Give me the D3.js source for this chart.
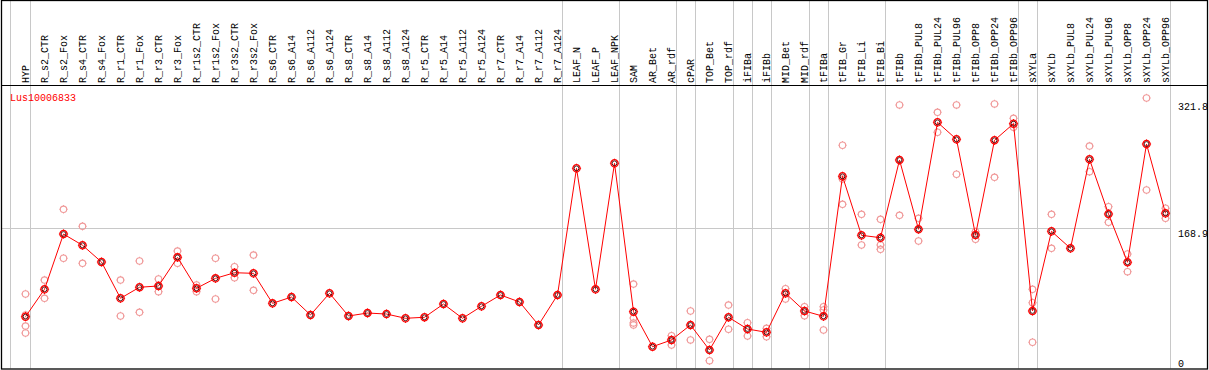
<!DOCTYPE html>
<html>
<head>
<meta charset="utf-8">
<script src="https://cdn.jsdelivr.net/npm/d3@7"></script>
<style>
  html, body { margin: 0; padding: 0; background: #fff; }
  svg { display: block; }
  text { font-family: "Liberation Mono", "DejaVu Sans Mono", monospace; font-size: 10px; }
</style>
</head>
<body>
<div id="chart"></div>
<script>
const geneId = 'Lus10006833';

const categories = [
  'HYP', 'R_s2_CTR', 'R_s2_Fox', 'R_s4_CTR', 'R_s4_Fox', 'R_r1_CTR', 'R_r1_Fox',
  'R_r3_CTR', 'R_r3_Fox', 'R_r1s2_CTR', 'R_r1s2_Fox', 'R_r3s2_CTR', 'R_r3s2_Fox',
  'R_s6_CTR', 'R_s6_A14', 'R_s6_A112', 'R_s6_A124', 'R_s8_CTR', 'R_s8_A14',
  'R_s8_A112', 'R_s8_A124', 'R_r5_CTR', 'R_r5_A14', 'R_r5_A112', 'R_r5_A124',
  'R_r7_CTR', 'R_r7_A14', 'R_r7_A112', 'R_r7_A124', 'LEAF_N', 'LEAF_P', 'LEAF_NPK',
  'SAM', 'AR_Bet', 'AR_rdf', 'cPAR', 'TOP_Bet', 'TOP_rdf', 'iFIBa', 'iFIBb',
  'MID_Bet', 'MID_rdf', 'tFIBa', 'tFIB_Gr', 'tFIB_Li', 'tFIB_Bi', 'tFIBb',
  'tFIBb_PUL8', 'tFIBb_PUL24', 'tFIBb_PUL96', 'tFIBb_OPP8', 'tFIBb_OPP24', 'tFIBb_OPP96',
  'sXYLa', 'sXYLb', 'sXYLb_PUL8', 'sXYLb_PUL24', 'sXYLb_PUL96', 'sXYLb_OPP8',
  'sXYLb_OPP24', 'sXYLb_OPP96',
];

// mean expression per sample
const meanValues = [
  64.6, 96.8, 161.8, 148.6, 128.9, 86.2, 99.2,
  100.7, 134.4, 98.0, 109.7, 116.3, 115.6,
  80.3, 87.7, 66.6, 92.1, 65.4, 68.9,
  67.7, 62.7, 63.9, 79.5, 62.7, 76.8,
  90.1, 81.9, 54.8, 90.1, 239.1, 96.8, 245.0,
  70.5, 29.3, 37.2, 54.8, 25.4, 63.9, 50.1, 46.2,
  92.1, 71.3, 65.0, 229.7, 160.3, 157.5, 248.9,
  167.4, 293.2, 273.2, 160.7, 272.1, 291.6,
  71.3, 165.0, 145.0, 249.7, 185.4, 128.6,
  267.7, 186.2,
];

// individual replicates (only the ones that show apart from the mean)
const replicateValues = [
  [91.3, 66.6, 53.6, 45.4], [107.7, 86.2], [190.9, 133.3], [170.9, 127.4], [], [107.7, 65.4], [130.1, 69.7],
  [108.9, 94.0], [141.8, 127.4], [101.9, 94.0], [133.3, 85.4], [123.4, 110.4], [137.1, 95.6],
  [], [], [], [], [], [],
  [], [], [], [], [], [],
  [], [], [], [], [], [], [],
  [103.0, 63.0, 57.2, 54.8], [], [42.2, 31.3], [71.3, 37.2], [38.0, 12.8], [78.3, 49.8], [57.5, 41.9], [50.9, 41.0],
  [97.5, 85.4], [76.3, 65.7], [76.3, 72.5, 48.9], [266.2, 226.5, 196.8], [185.0, 148.9], [179.1, 148.9, 143.8], [313.6, 183.8],
  [180.3, 153.6], [305.0, 281.5], [313.6, 232.1], [164.5, 155.6], [314.8, 228.5], [297.9, 287.3],
  [96.8, 81.0, 34.5], [185.0, 145.0], [], [265.3, 235.1], [194.0, 175.6], [138.3, 117.5],
  [321.8, 213.6], [192.1, 180.3],
];

// a separator is drawn after each of these samples
const groupEnds = ['HYP', 'R_r7_A124', 'LEAF_NPK', 'AR_rdf', 'cPAR', 'TOP_rdf', 'iFIBa', 'iFIBb',
  'MID_rdf', 'tFIBa', 'tFIB_Bi', 'tFIBb_OPP96', 'sXYLa', 'sXYLb_OPP96'];

const yMax = 321.8;
const yRef = 168.9;

const style = {
  mean: '#ff0000',
  meanInner: '#400000',
  replicate: '#f09a9a',
  grid: '#c8c8c8',
  frame: '#000',
};

const W = 1209;
const H = 370;
const headerBottom = 85;
const plotRight = 1170;
const plotBottom = 368.5;

const svg = d3.select('#chart').append('svg')
  .attr('width', W)
  .attr('height', H);

const x = d3.scalePoint()
  .domain(categories)
  .range([25, 1165]);

const y = d3.scaleLinear()
  .domain([0, yMax])
  .range([371.6, 98]);

// vertical separators
const sepX = [x(categories[0]) - 15].concat(groupEnds.map((c) => x(c) + 5));
svg.append('g')
  .selectAll('line')
  .data(sepX)
  .enter().append('line')
  .attr('x1', (d) => Math.round(d) + 0.5)
  .attr('x2', (d) => Math.round(d) + 0.5)
  .attr('y1', 0)
  .attr('y2', plotBottom)
  .attr('stroke', style.grid)
  .attr('stroke-width', 1);

// reference line
svg.append('line')
  .attr('x1', 1)
  .attr('x2', plotRight)
  .attr('y1', Math.round(y(yRef)) + 0.5)
  .attr('y2', Math.round(y(yRef)) + 0.5)
  .attr('stroke', style.grid);

// header / frame
svg.append('line')
  .attr('x1', 1).attr('x2', W - 1.5)
  .attr('y1', headerBottom + 0.5).attr('y2', headerBottom + 0.5)
  .attr('stroke', style.frame);

svg.append('rect')
  .attr('x', 1.5).attr('y', 0.5)
  .attr('width', W - 3).attr('height', plotBottom)
  .attr('fill', 'none')
  .attr('stroke', style.frame)
  .attr('stroke-width', 1.3);

// sample labels
svg.append('g')
  .selectAll('text')
  .data(categories)
  .enter().append('text')
  .attr('transform', (d) => `translate(${x(d) + 3.5},${headerBottom - 2}) rotate(-90)`)
  .attr('fill', '#000')
  .text((d) => d);

svg.append('text')
  .attr('x', 10)
  .attr('y', 101)
  .attr('fill', style.mean)
  .text(geneId);

// y labels on the right
const yLabels = [
  { v: yMax, y: y(yMax) + 12 },
  { v: yRef, y: y(yRef) + 9 },
  { v: 0, y: plotBottom - 1.5 },
];
svg.append('g')
  .selectAll('text')
  .data(yLabels)
  .enter().append('text')
  .attr('x', 1178)
  .attr('y', (d) => d.y)
  .attr('fill', '#000')
  .text((d) => d.v);

function marker(g, r, color, sw) {
  g.append('circle')
    .attr('r', r)
    .attr('fill', 'none')
    .attr('stroke', color)
    .attr('stroke-width', sw);
  g.append('path')
    .attr('d', `M0,${-r - 1}V${-r}M0,${r}V${r + 1}M${-r - 1},0H${-r}M${r},0H${r + 1}`)
    .attr('stroke', color)
    .attr('stroke-width', 1);
}

// replicates
const reps = [];
categories.forEach((c, i) => replicateValues[i].forEach((v) => reps.push({ c, v })));
svg.append('g')
  .selectAll('g')
  .data(reps)
  .enter().append('g')
  .attr('transform', (d) => `translate(${x(d.c) + 0.5},${y(d.v)})`)
  .each(function () { marker(d3.select(this), 3.2, style.replicate, 1.1); });

// mean line
const line = d3.line()
  .x((d, i) => x(categories[i]) + 0.5)
  .y((d) => y(d));
svg.append('path')
  .datum(meanValues)
  .attr('d', line)
  .attr('fill', 'none')
  .attr('stroke', style.mean)
  .attr('stroke-width', 1);

svg.append('g')
  .selectAll('g')
  .data(meanValues)
  .enter().append('g')
  .attr('transform', (d, i) => `translate(${x(categories[i]) + 0.5},${y(d)})`)
  .each(function () {
    const g = d3.select(this);
    marker(g, 3.6, style.mean, 1.3);
    g.append('circle')
      .attr('r', 2.4)
      .attr('fill', 'none')
      .attr('stroke', style.meanInner)
      .attr('stroke-width', 0.9);
  });
</script>
</body>
</html>
